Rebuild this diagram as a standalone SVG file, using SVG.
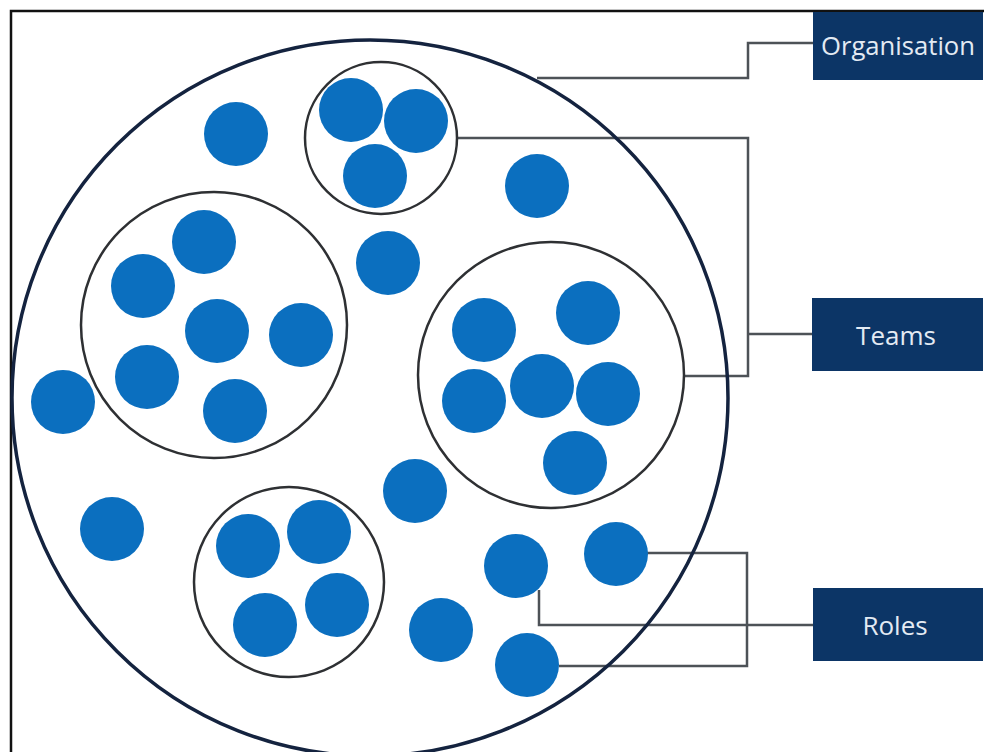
<svg xmlns="http://www.w3.org/2000/svg" width="984" height="752" viewBox="0 0 984 752">
<style>
.dot{fill:#0b6fbf;}
.team{fill:none;stroke:#2e3033;stroke-width:2.5;}
.org{fill:none;stroke:#14233f;stroke-width:3.5;}
.conn{fill:none;stroke:#4d5257;stroke-width:2.5;}
.box{fill:#0c3566;}
.lbl{font-family:"Open Sans","Noto Sans",sans-serif;font-size:26px;fill:#e3eaf3;text-anchor:middle;}
</style>
<rect x="0" y="0" width="984" height="752" fill="#ffffff"/>
<rect x="11" y="11" width="1000" height="800" fill="none" stroke="#111111" stroke-width="2.5"/>
<g id="connectors">
<path class="conn" d="M537,78 H748 V43 H813"/>
<path class="conn" d="M457,138 H748 V376 H684"/>
<path class="conn" d="M748,334 H812"/>
<path class="conn" d="M539,590 V625 H813"/>
<path class="conn" d="M647,553 H747 V666 H559"/>
</g>
<g id="organisation">
<circle class="org" cx="370" cy="398" r="358"/>
</g>
<g id="team-top">
<circle class="team" cx="381" cy="138" r="76"/>
<circle class="dot" cx="351" cy="110" r="32"/>
<circle class="dot" cx="416" cy="121" r="32"/>
<circle class="dot" cx="375" cy="176" r="32"/>
</g>
<g id="team-left">
<circle class="team" cx="214" cy="325" r="133"/>
<circle class="dot" cx="204" cy="242" r="32"/>
<circle class="dot" cx="143" cy="286" r="32"/>
<circle class="dot" cx="217" cy="331" r="32"/>
<circle class="dot" cx="301" cy="335" r="32"/>
<circle class="dot" cx="147" cy="377" r="32"/>
<circle class="dot" cx="235" cy="411" r="32"/>
</g>
<g id="team-right">
<circle class="team" cx="551" cy="375" r="133"/>
<circle class="dot" cx="484" cy="330" r="32"/>
<circle class="dot" cx="588" cy="313" r="32"/>
<circle class="dot" cx="542" cy="386" r="32"/>
<circle class="dot" cx="608" cy="394" r="32"/>
<circle class="dot" cx="474" cy="401" r="32"/>
<circle class="dot" cx="575" cy="463" r="32"/>
</g>
<g id="team-bottom">
<circle class="team" cx="289" cy="582" r="95"/>
<circle class="dot" cx="248" cy="546" r="32"/>
<circle class="dot" cx="319" cy="532" r="32"/>
<circle class="dot" cx="265" cy="625" r="32"/>
<circle class="dot" cx="337" cy="605" r="32"/>
</g>
<g id="roles">
<circle class="dot" cx="236" cy="134" r="32"/>
<circle class="dot" cx="537" cy="186" r="32"/>
<circle class="dot" cx="388" cy="263" r="32"/>
<circle class="dot" cx="63" cy="402" r="32"/>
<circle class="dot" cx="112" cy="529" r="32"/>
<circle class="dot" cx="415" cy="491" r="32"/>
<circle class="dot" cx="516" cy="566" r="32"/>
<circle class="dot" cx="616" cy="554" r="32"/>
<circle class="dot" cx="441" cy="630" r="32"/>
<circle class="dot" cx="527" cy="665" r="32"/>
</g>
<g id="label-organisation">
<rect class="box" x="813" y="12" width="170" height="68"/>
<text class="lbl" x="898" y="55" textLength="154" lengthAdjust="spacingAndGlyphs">Organisation</text>
</g>
<g id="label-teams">
<rect class="box" x="812" y="298" width="171" height="73"/>
<text class="lbl" x="896" y="345">Teams</text>
</g>
<g id="label-roles">
<rect class="box" x="813" y="588" width="170" height="73"/>
<text class="lbl" x="895" y="635">Roles</text>
</g>
</svg>
